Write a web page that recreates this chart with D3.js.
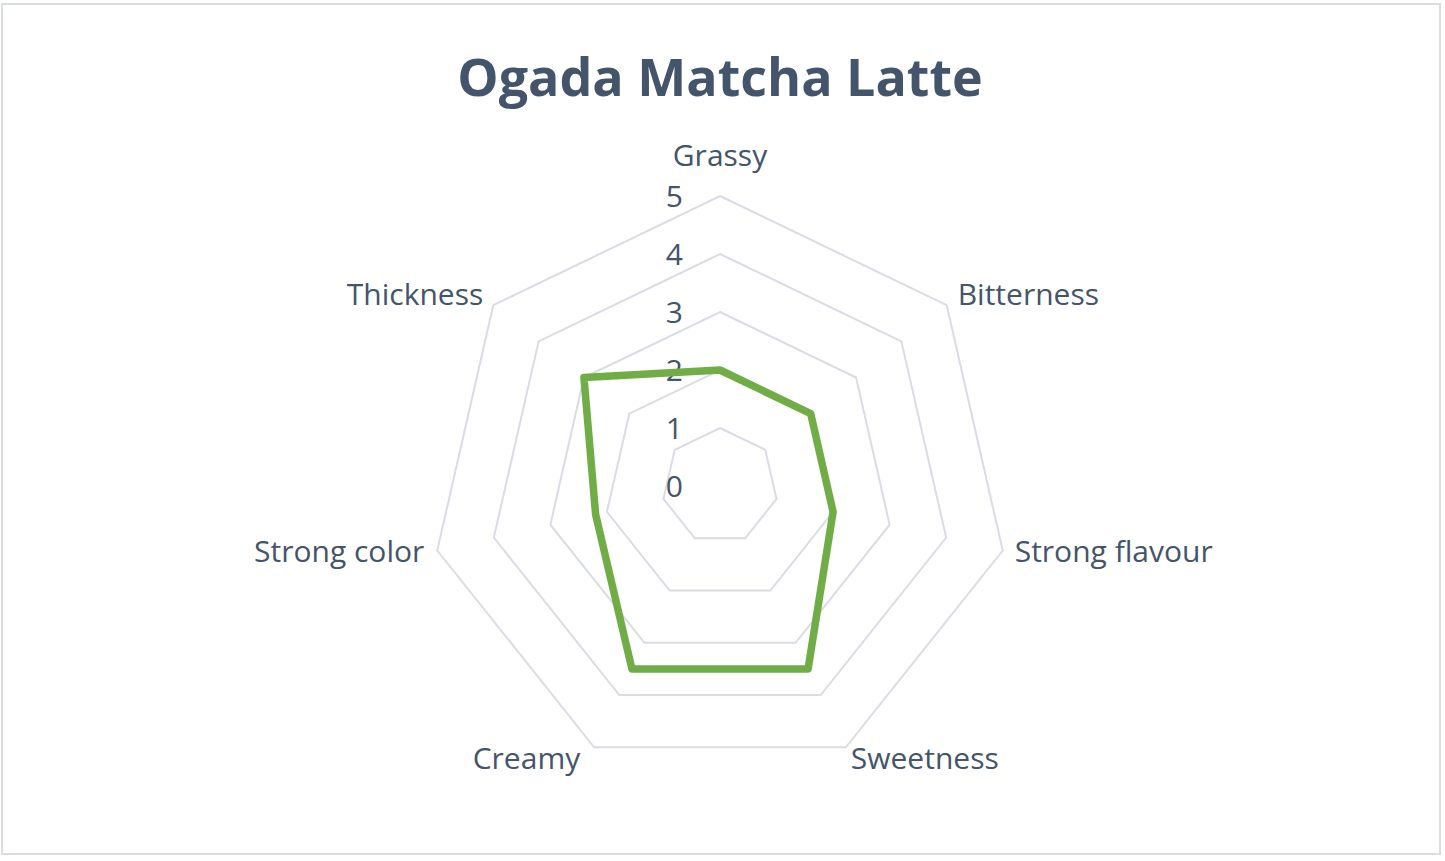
<!DOCTYPE html>
<html>
<head>
<meta charset="UTF-8">
<title>Ogada Matcha Latte</title>
<style>
body {
  margin: 0;
  background: #ffffff;
}
text {
  font-family: "Open Sans", "DejaVu Sans", sans-serif;
  fill: #44546a;
}
</style>
</head>
<body>
<script src="https://cdn.jsdelivr.net/npm/d3@7"></script>
<script>
// chart data
var categories = ["Grassy", "Bitterness", "Strong flavour", "Sweetness", "Creamy", "Strong color", "Thickness"];
var values = [2, 2, 2, 3.5, 3.5, 2.2, 3];
var ticks = [0, 1, 2, 3, 4, 5];
var title = "Ogada Matcha Latte";

var width = 1445,
    height = 861;
var cx = 720,
    cy = 486;

var svg = d3.select("body").append("svg")
  .attr("width", width)
  .attr("height", height);

// chart border
svg.append("rect")
  .attr("x", 2).attr("y", 4)
  .attr("width", 1438).attr("height", 850)
  .attr("fill", "#ffffff")
  .attr("stroke", "#d9dde3")
  .attr("stroke-width", 2);

svg.append("text")
  .attr("x", cx)
  .attr("y", 96)
  .attr("text-anchor", "middle")
  .style("font-size", "52px")
  .style("font-weight", "bold")
  .text(title);

var r = d3.scaleLinear().domain([0, 5]).range([0, 290]);
var angle = d3.scaleLinear().domain([0, categories.length]).range([0, 2 * Math.PI]);

var g = svg.append("g").attr("transform", "translate(" + cx + "," + cy + ")");

var radial = d3.lineRadial()
  .curve(d3.curveLinearClosed);

// grid heptagons
ticks.slice(1).forEach(function(t) {
  g.append("path")
    .attr("d", radial(categories.map(function(c, i) { return [angle(i), r(t)]; })))
    .attr("fill", "none")
    .attr("stroke", "#d9dce4")
    .attr("stroke-width", 2);
});

// tick labels
g.selectAll(".tick")
  .data(ticks)
  .enter().append("text")
  .attr("class", "tick")
  .attr("x", -37)
  .attr("y", function(d) { return -r(d); })
  .attr("dy", "0.36em")
  .attr("text-anchor", "end")
  .style("font-size", "30px")
  .text(function(d) { return d; });

// category labels
g.selectAll(".cat")
  .data(categories)
  .enter().append("text")
  .attr("class", "cat")
  .each(function(d, i) {
    var a = angle(i);
    var s = Math.sin(a), c = -Math.cos(a);
    var x = r(5) * s, y = r(5) * c;
    var anchor = "middle", dx = 0, dy = 0;
    if (Math.abs(s) < 0.1) { dy = -30; }
    else {
      anchor = s > 0 ? "start" : "end";
      if (c > 0.8) { dx = s > 0 ? 5 : -14; dy = 22; }
      else if (c > 0) { dx = s > 0 ? 12 : -13; dy = 11; }
      else { dx = s > 0 ? 11 : -10; dy = 0; }
    }
    d3.select(this)
      .attr("x", x + dx)
      .attr("y", y + dy)
      .attr("text-anchor", anchor);
  })
  .style("font-size", "30px")
  .text(function(d) { return d; });

// series
g.append("path")
  .attr("d", radial(values.map(function(v, i) { return [angle(i), r(v)]; })))
  .attr("fill", "none")
  .attr("stroke", "#70ad47")
  .attr("stroke-width", 7.5)
  .attr("stroke-linejoin", "round");
</script>
</body>
</html>
